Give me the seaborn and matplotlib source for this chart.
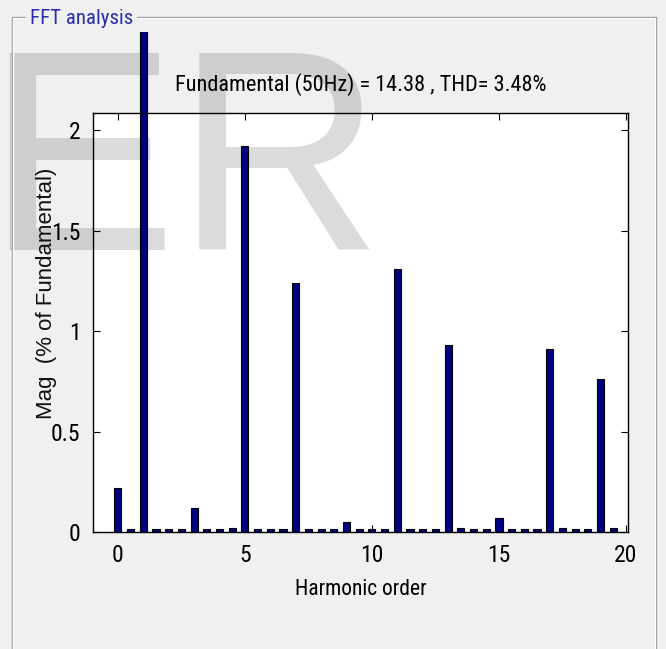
import matplotlib
matplotlib.use("Agg")
import matplotlib.pyplot as plt
from matplotlib.patches import Rectangle
import seaborn as sns
import pandas as pd

# harmonic orders (half-order resolution) and magnitudes in % of fundamental
orders = [0, 0.5, 1, 1.5, 2, 2.5, 3, 3.5, 4, 4.5,
          5, 5.5, 6, 6.5, 7, 7.5, 8, 8.5, 9, 9.5,
          10, 10.5, 11, 11.5, 12, 12.5, 13, 13.5, 14, 14.5,
          15, 15.5, 16, 16.5, 17, 17.5, 18, 18.5, 19, 19.5]
mags = [0.22, 0.015, 100, 0.015, 0.015, 0.015, 0.12, 0.015, 0.015, 0.02,
        1.92, 0.015, 0.015, 0.015, 1.24, 0.015, 0.015, 0.015, 0.05, 0.015,
        0.015, 0.015, 1.31, 0.015, 0.015, 0.015, 0.93, 0.02, 0.015, 0.015,
        0.07, 0.015, 0.015, 0.015, 0.91, 0.02, 0.015, 0.015, 0.76, 0.02]
xticks = [0, 5, 10, 15, 20]
yticks = [0, 0.5, 1, 1.5, 2]

title_txt = "Fundamental (50Hz) = 14.38 , THD= 3.48%"
panel_txt = "FFT analysis"

df = pd.DataFrame({"order": orders, "mag": mags})

sns.set_theme(style="ticks")
narrow = ["Roboto Condensed", "Liberation Sans Narrow", "Liberation Sans", "DejaVu Sans"]
regular = ["Liberation Sans", "DejaVu Sans"]
plt.rcParams["font.family"] = narrow

W, H = 666, 649
fig = plt.figure(figsize=(W / 100, H / 100), dpi=100, facecolor="#f0f0f0")

def fx(px):
    return px / W

def fy(py):
    return 1 - py / H

# panel frame (etched look)
fig.patches.append(Rectangle((fx(12), fy(660)), fx(656) - fx(12), fy(17) - fy(660),
                             transform=fig.transFigure, fill=False,
                             edgecolor="#a0a0a0", linewidth=1.0))
fig.patches.append(Rectangle((fx(13), fy(660)), fx(655) - fx(13), fy(18) - fy(660),
                             transform=fig.transFigure, fill=False,
                             edgecolor="#ffffff", linewidth=0.8))

ax = fig.add_axes([fx(93), fy(532), fx(628) - fx(93), fy(113) - fy(532)])
ax.set_facecolor("white")

sns.barplot(data=df, x="order", y="mag", native_scale=True, width=0.56,
            color="#000080", saturation=1, edgecolor="black", linewidth=0.8,
            errorbar=None, ax=ax, zorder=2)

# the fundamental bar runs past the axes, clipped near the panel top
clip = Rectangle((0, 0), 1, fy(32), transform=fig.transFigure)
for p in ax.patches:
    if p.get_height() > 5:
        p.set_clip_path(clip)

ax.set_xlim(-0.98, 20.08)
ax.set_ylim(0, 2.085)
ax.set_xticks(xticks)
ax.set_xticklabels([str(t) for t in xticks])
ax.set_yticks(yticks)
ax.set_yticklabels(["0", "0.5", "1", "1.5", "2"])
ax.tick_params(direction="in", length=5, width=0.8, colors="black",
               labelsize=17, top=True, right=True, pad=9)
for s in ax.spines.values():
    s.set_visible(True)
    s.set_color("black")
    s.set_linewidth(1.0)

ax.set_xlabel("Harmonic order", fontsize=15.5, color="black", labelpad=8)
ax.set_ylabel("Mag  (% of Fundamental)", fontsize=16, color="#111111",
              family=regular)
ax.yaxis.set_label_coords(-0.068, 0.57)
ax.set_title(title_txt, fontsize=16, color="black", pad=16)

# watermark, behind the bars but over the axes background
ax.text(fx(-14), fy(250), "ER", transform=fig.transFigure, fontsize=206,
        family=regular, color="black", alpha=0.14, clip_on=False, zorder=0.5,
        va="baseline", ha="left")

# panel label
fig.text(fx(30), fy(19), panel_txt, fontsize=15, color="#2b2bb0",
         va="center", ha="left",
         bbox=dict(facecolor="#f0f0f0", edgecolor="none", pad=3))

fig.savefig("out.png", dpi=100, facecolor=fig.get_facecolor())
